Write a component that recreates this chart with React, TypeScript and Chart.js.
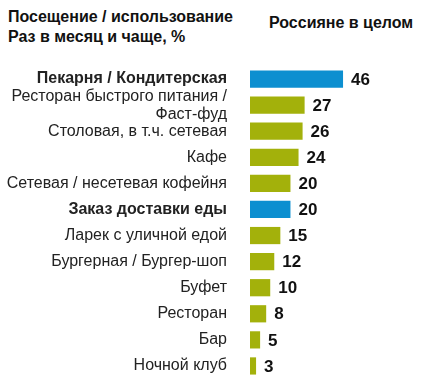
import React, { useEffect, useRef } from "react";
import { Chart, registerables } from "chart.js";

Chart.register(...registerables);

const categories: (string | string[])[] = [
  "Пекарня / Кондитерская",
  ["Ресторан быстрого питания /", "Фаст-фуд"],
  "Столовая, в т.ч. сетевая",
  "Кафе",
  "Сетевая / несетевая кофейня",
  "Заказ доставки еды",
  "Ларек с уличной едой",
  "Бургерная / Бургер-шоп",
  "Буфет",
  "Ресторан",
  "Бар",
  "Ночной клуб",
];
const values = [46, 27, 26, 24, 20, 20, 15, 12, 10, 8, 5, 3];
const highlighted = [0, 5];

const BLUE = "#0c8fd0";
const OLIVE = "#a3b10b";
const FONT = "'Liberation Sans', Arial, sans-serif";

const valueLabels = {
  id: "valueLabels",
  afterDatasetsDraw(chart: any) {
    const ctx = chart.ctx;
    const meta = chart.getDatasetMeta(0);
    ctx.save();
    ctx.font = `bold 17px ${FONT}`;
    ctx.fillStyle = "#111";
    ctx.textAlign = "left";
    ctx.textBaseline = "middle";
    meta.data.forEach((bar: any, i: number) => {
      ctx.fillText(String(values[i]), bar.x + 8, bar.y + 1);
    });
    ctx.restore();
  },
};

export default function App() {
  const ref = useRef<HTMLCanvasElement>(null);
  useEffect(() => {
    if (!ref.current) return;
    const chart = new Chart(ref.current, {
      type: "bar",
      data: {
        labels: categories,
        datasets: [
          {
            data: values,
            backgroundColor: values.map((_, i) => (highlighted.includes(i) ? BLUE : OLIVE)),
            barPercentage: 0.66,
            categoryPercentage: 1,
          },
        ],
      },
      options: {
        indexAxis: "y",
        animation: false,
        responsive: false,
        maintainAspectRatio: false,
        layout: { padding: { top: 66, bottom: 9, left: 0, right: 0 } },
        plugins: { legend: { display: false }, tooltip: { enabled: false }, title: { display: false } },
        scales: {
          x: { display: false, min: 0, max: 88 },
          y: {
            afterFit: (scale: any) => {
              scale.width = 250;
              scale.paddingTop = 0;
              scale.paddingBottom = 0;
            },
            grid: { display: false, drawTicks: false },
            border: { display: false },
            ticks: {
              autoSkip: false,
              padding: 23,
              color: "#222",
              font: (c: any) => ({
                family: FONT,
                size: 16,
                weight: highlighted.includes(c.index) ? "bold" : "normal",
                lineHeight: 1.125,
              }),
            },
          },
        },
      },
      plugins: [valueLabels],
    });
    return () => chart.destroy();
  }, []);

  const hdr: React.CSSProperties = {
    position: "absolute",
    fontFamily: FONT,
    fontWeight: "bold",
    fontSize: 16,
    color: "#111",
    lineHeight: "20px",
    whiteSpace: "nowrap",
  };

  return (
    <div style={{ position: "absolute", left: 0, top: 0, width: 428, height: 388, background: "#fff" }}>
      <div style={{ ...hdr, left: 8, top: 7 }}>
        Посещение / использование
        <br />
        Раз в месяц и чаще, %
      </div>
      <div style={{ ...hdr, left: 269, top: 13 }}>Россияне в целом</div>
      <canvas ref={ref} width={428} height={388} style={{ position: "absolute", left: 0, top: 0 }} />
    </div>
  );
}
